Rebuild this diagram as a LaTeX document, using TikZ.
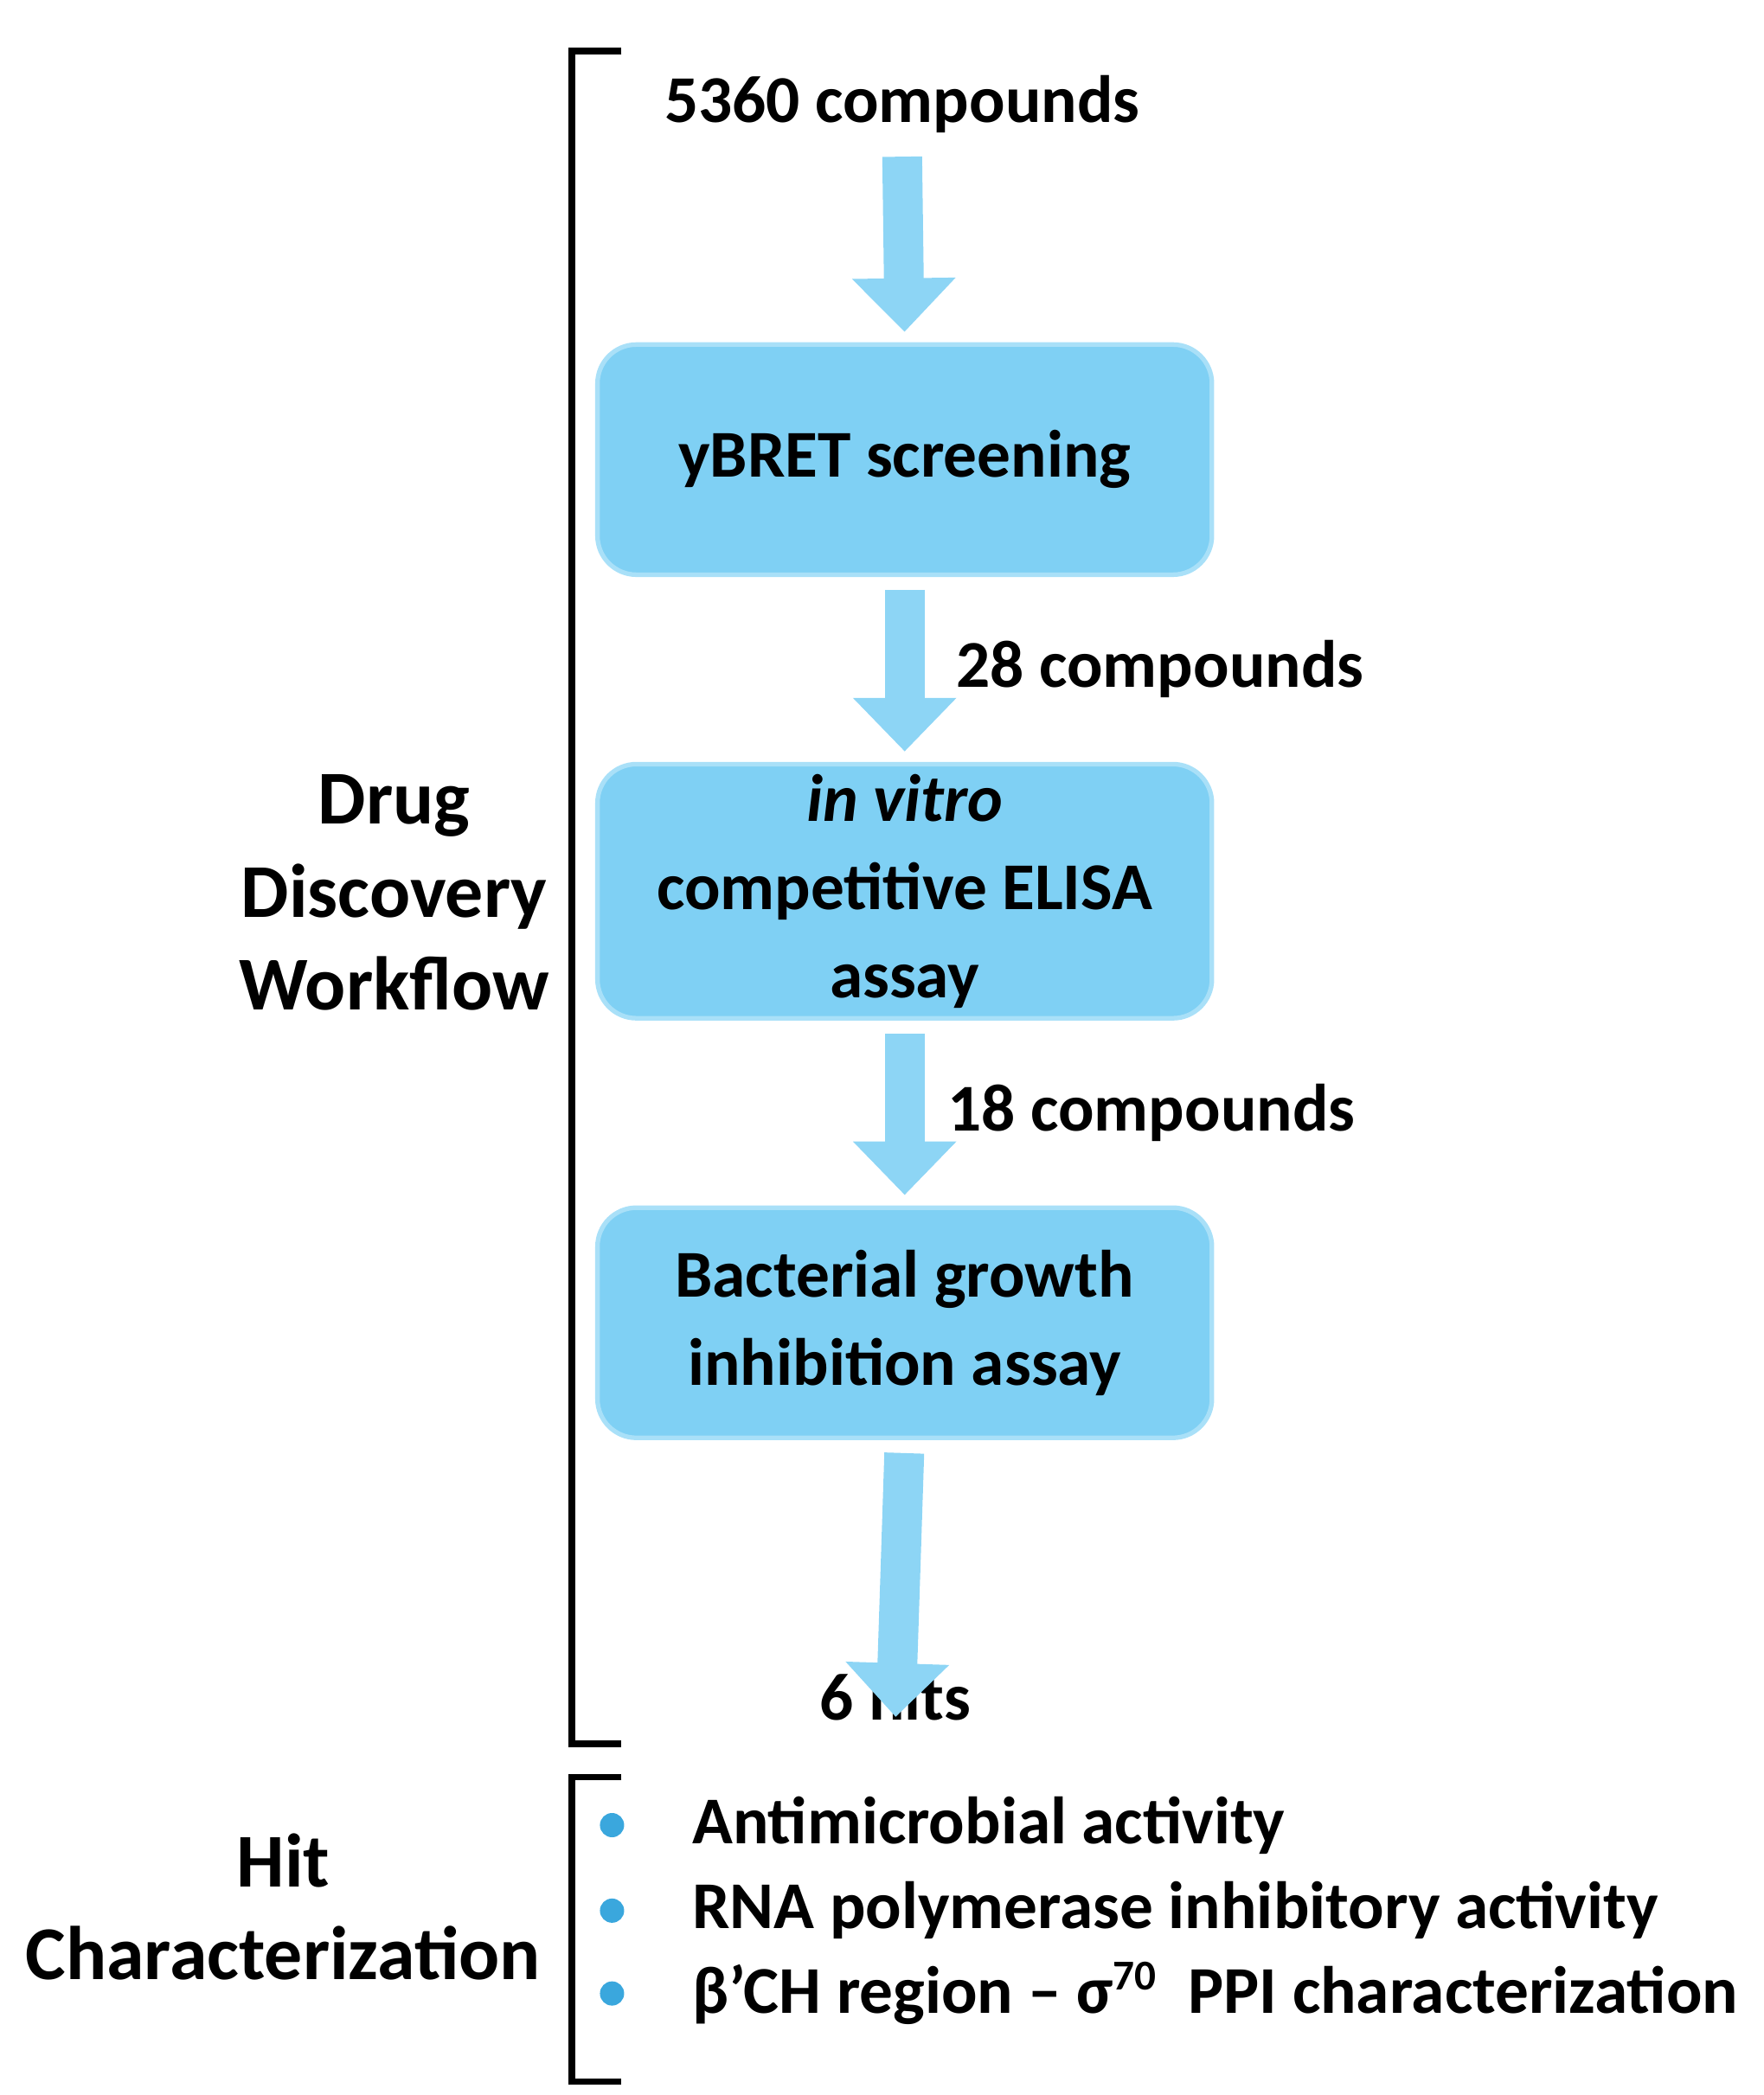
\documentclass[tikz,border=0pt]{standalone}
\usepackage{fontspec}
\setmainfont{Carlito}
\usetikzlibrary{arrows.meta,positioning}

\definecolor{boxblue}{HTML}{7FD0F4}
\definecolor{boxedge}{HTML}{A9E0F8}
\definecolor{arrowblue}{HTML}{8DD5F5}
\definecolor{dotblue}{HTML}{3AA7DD}

\begin{document}
\begin{tikzpicture}[x=0.01544cm, y=-0.01544cm]
    % Define styles
    \tikzset{
        stage/.style = {rectangle, rounded corners=0.45cm, draw=boxedge, line width=1.5pt, fill=boxblue, minimum width=7.1cm, minimum height=2.66cm, align=center, font=\fontsize{22}{29}\selectfont\bfseries},
        txt/.style = {font=\fontsize{22}{29}\selectfont\bfseries, align=center},
        bigarrow/.style = {arrowblue, line width=0.46cm, -{Triangle[length=0.62cm,width=1.16cm]}, shorten <=0.15cm, shorten >=0.12cm},
        dot/.style = {circle, fill=dotblue, inner sep=0pt, minimum size=0.28cm},
        item/.style = {anchor=west, font=\fontsize{22}{29}\selectfont\bfseries}
    }
    \useasboundingbox (0,0) rectangle (1320,1568);

    % Brackets
    \draw[line width=2.2pt] (465,38) -- (428,38) -- (428,1305) -- (465,1305);
    \draw[line width=2.2pt] (465,1330) -- (428,1330) -- (428,1558) -- (465,1558);

    % Workflow
    \node[txt] (start) at (675,78) {5360 compounds};
    \node[stage] (ybret) at (677,344) {yBRET screening};
    \node[stage] (elisa) at (677,667) {\textit{in vitro}\\competitive ELISA\\assay};
    \node[stage] (growth) at (677,990) {Bacterial growth\\inhibition assay};
    \node[txt] (hits) at (670,1270) {6 hits};

    % Arrows
    \draw[bigarrow] (start.south) -- (ybret.north);
    \draw[bigarrow] (ybret.south) -- (elisa.north) node[midway, right=0.25cm, txt, black] {28 compounds};
    \draw[bigarrow] (elisa.south) -- (growth.north) node[midway, right=0.15cm, txt, black] {18 compounds};
    \draw[bigarrow] (growth.south) -- ([yshift=-0.75cm]hits.north);

    % Side titles
    \node[txt, font=\fontsize{25}{30.5}\selectfont\bfseries] (workflow) at (295,668) {Drug\\Discovery\\Workflow};
    \node[txt, font=\fontsize{25}{30.5}\selectfont\bfseries] (hitchar) at (212,1427) {Hit\\Characterization};

    % Hit characterization list
    \node[dot] (b1) at (458,1366) {};
    \node[dot] (b2) at (458,1430) {};
    \node[dot] (b3) at (458,1492) {};
    \node[item] (t1) at (510,1366) {Antimicrobial activity};
    \node[item] (t2) at (510,1430) {RNA polymerase inhibitory activity};
    \node[item] (t3) at (510,1492) {β’CH region – σ\textsuperscript{\fontsize{14}{16}\selectfont 70}\ \ PPI characterization};
\end{tikzpicture}
\end{document}
